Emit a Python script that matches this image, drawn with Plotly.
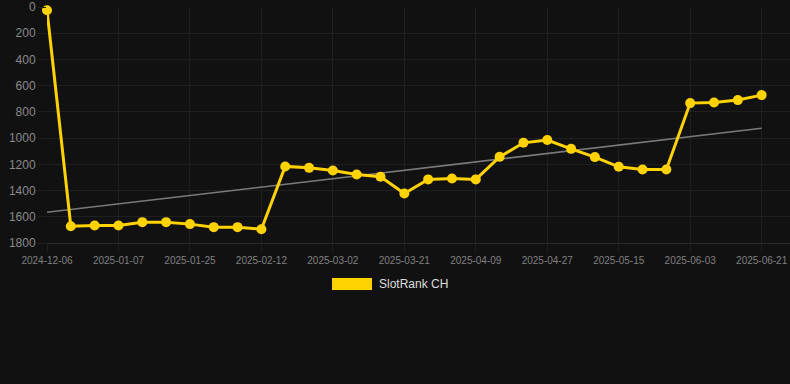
import numpy as np
import plotly.graph_objects as go

dates = [
    "2024-12-06", "2024-12-26", "2025-01-01", "2025-01-07", "2025-01-13", "2025-01-19",
    "2025-01-25", "2025-01-31", "2025-02-06", "2025-02-12", "2025-02-18", "2025-02-24",
    "2025-03-02", "2025-03-08", "2025-03-14", "2025-03-21", "2025-03-27", "2025-04-03",
    "2025-04-09", "2025-04-15", "2025-04-21", "2025-04-27", "2025-05-03", "2025-05-09",
    "2025-05-15", "2025-05-21", "2025-05-27", "2025-06-03", "2025-06-09", "2025-06-15",
    "2025-06-21",
]
rank_ch = [
    25, 1672, 1667, 1667, 1641, 1641, 1656, 1679, 1679, 1695,
    1216, 1227, 1247, 1277, 1295, 1422, 1315, 1308, 1315, 1143,
    1036, 1015, 1082, 1145, 1219, 1239, 1239, 733, 728, 710, 672,
]
tick_labels = dates[::3]
y_ticks = [0, 200, 400, 600, 800, 1000, 1200, 1400, 1600, 1800]

idx = np.arange(len(rank_ch))
slope, intercept = np.polyfit(idx, np.array(rank_ch, dtype=float), 1)
trend = (slope * idx + intercept).tolist()

YELLOW = "#FFD200"
GRID = "#1f1f1f"

fig = go.Figure()
fig.add_trace(go.Scatter(
    x=dates, y=trend, mode="lines", showlegend=False, hoverinfo="skip",
    line=dict(color="#7a7a7a", width=1.6), cliponaxis=False,
))
fig.add_trace(go.Scatter(
    x=dates, y=rank_ch, mode="lines+markers", name="SlotRank CH", showlegend=False,
    line=dict(color=YELLOW, width=3), marker=dict(color=YELLOW, size=10),
    cliponaxis=False,
))

fig.update_layout(
    width=790, height=384,
    margin=dict(l=47, r=0, t=7, b=141),
    paper_bgcolor="#111111", plot_bgcolor="#111111",
    font=dict(family="Arial, Liberation Sans, sans-serif", color="#8a8a8a"),
    xaxis=dict(
        type="category", categoryorder="array", categoryarray=dates,
        range=[0, 31.19], tickvals=tick_labels, ticktext=tick_labels,
        tickangle=0,
        showgrid=True, gridcolor=GRID, gridwidth=1, zeroline=False,
        ticks="outside", ticklen=8, tickcolor=GRID,
        showline=True, linecolor="#2a2a2a", linewidth=1,
        tickfont=dict(size=10, color="#808080"),
    ),
    yaxis=dict(
        range=[1800, 0], tickvals=y_ticks,
        showgrid=True, gridcolor=GRID, gridwidth=1, zeroline=False,
        ticks="outside", ticklen=8, tickcolor=GRID, showline=False,
        tickfont=dict(size=12, color="#8a8a8a"),
    ),
    shapes=[dict(
        type="rect", xref="paper", yref="paper",
        x0=(332 - 47) / 743, x1=(372 - 47) / 743,
        y0=(243 - 290) / 236, y1=(243 - 278) / 236,
        fillcolor=YELLOW, line=dict(width=0),
    )],
    annotations=[dict(
        text="SlotRank CH", xref="paper", yref="paper",
        x=(377 - 47) / 743, y=(243 - 284) / 236,
        xanchor="left", yanchor="middle", showarrow=False,
        font=dict(size=12, color="#dddddd"),
    )],
)

fig.write_html(
    "out.html",
    config={"displayModeBar": False},
    post_script="document.body.style.margin='0';document.body.style.background='#111111';",
)
